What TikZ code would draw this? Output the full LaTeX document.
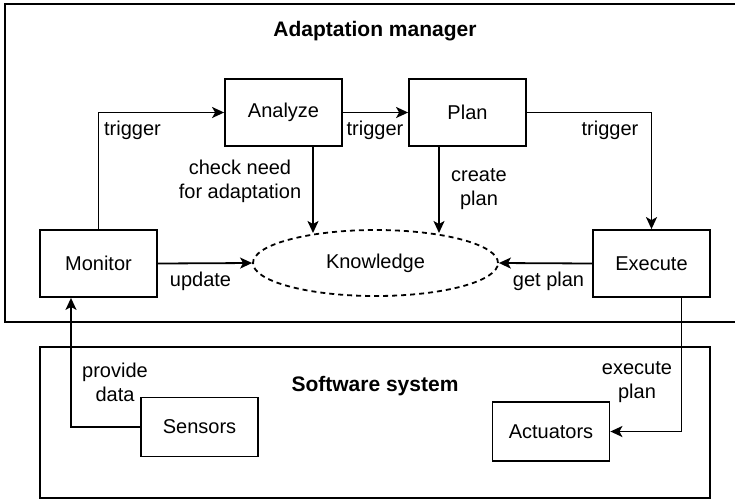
\documentclass[tikz,border=0pt]{standalone}
\usepackage{fontspec}
\setmainfont{Liberation Sans}
\usetikzlibrary{arrows.meta,shapes.geometric}

\tikzset{
  block/.style={draw, line width=1.8pt, minimum width=117pt, minimum height=67pt, inner sep=0pt},
  smallblock/.style={block, minimum height=59pt},
  store/.style={draw, ellipse, line width=1.8pt, dash pattern=on 5pt off 4pt,
    minimum width=245pt, minimum height=66pt, inner sep=0pt},
  lbl/.style={align=center, inner sep=0pt},
  title/.style={font=\fontsize{21}{25}\selectfont\bfseries, inner sep=0pt},
  arr/.style={line width=1.8pt, -{Stealth[length=12pt,width=11pt,inset=3pt]}},
  frame/.style={line width=1.8pt}
}

\begin{document}
\begin{tikzpicture}[x=1pt, y=-1pt, font=\fontsize{20}{24}\selectfont]
    \useasboundingbox (0,0) rectangle (735,499);

    % the two frames
    \draw[frame] (735,4) -| (5,322) -- (735,322);
    \draw[frame] (40,347) rectangle (710,498);
    \node[title] (am) at (375,31) {Adaptation manager};
    \node[title] (ss) at (375,386) {Software system};

    \node[block] (ana) at (283.5,112.5) {Analyze};
    \node[block] (plan) at (467.5,112.5) {Plan};
    \node[block] (mon) at (98.5,263.5) {Monitor};
    \node[block] (exe) at (651.5,263.5) {Execute};
    \node[store] (know) at (375.5,263) {Knowledge};
    \node[smallblock] (sen) at (199.5,427) {Sensors};
    \node[smallblock] (act) at (551,431.5) {Actuators};

    \coordinate (kA) at (313,233);
    \coordinate (kP) at (439,233);

    \draw[arr] (mon.north) |- (ana.west);
    \draw[arr] (ana.east) -- (plan.west);
    \draw[arr] (plan.east) -| (exe.north);
    \draw[arr] (ana.south -| kA) -- (kA);
    \draw[arr] (plan.south -| kP) -- (kP);
    \draw[arr] (mon.east) -- (know.west);
    \draw[arr] (exe.west) -- (know.east);
    \draw[arr] (sen.west) -| ([xshift=-27.5pt]mon.south);
    \draw[arr] ([xshift=30pt]exe.south) |- (act.east);

    \node[lbl] (t1) at (132.5,130) {trigger};
    \node[lbl] (t2) at (375,130) {trigger};
    \node[lbl] (t3) at (610,130) {trigger};
    \node[lbl] (chk) at (240,181) {check need\\for adaptation};
    \node[lbl] (cp) at (479,189) {create\\plan};
    \node[lbl] (upd) at (200.5,281) {update};
    \node[lbl] (gp) at (548.5,281) {get plan};
    \node[lbl] (pd) at (115,382) {provide\\data};
    \node[lbl] (ep) at (637,382) {execute\\plan};

  \end{tikzpicture}
\end{document}
